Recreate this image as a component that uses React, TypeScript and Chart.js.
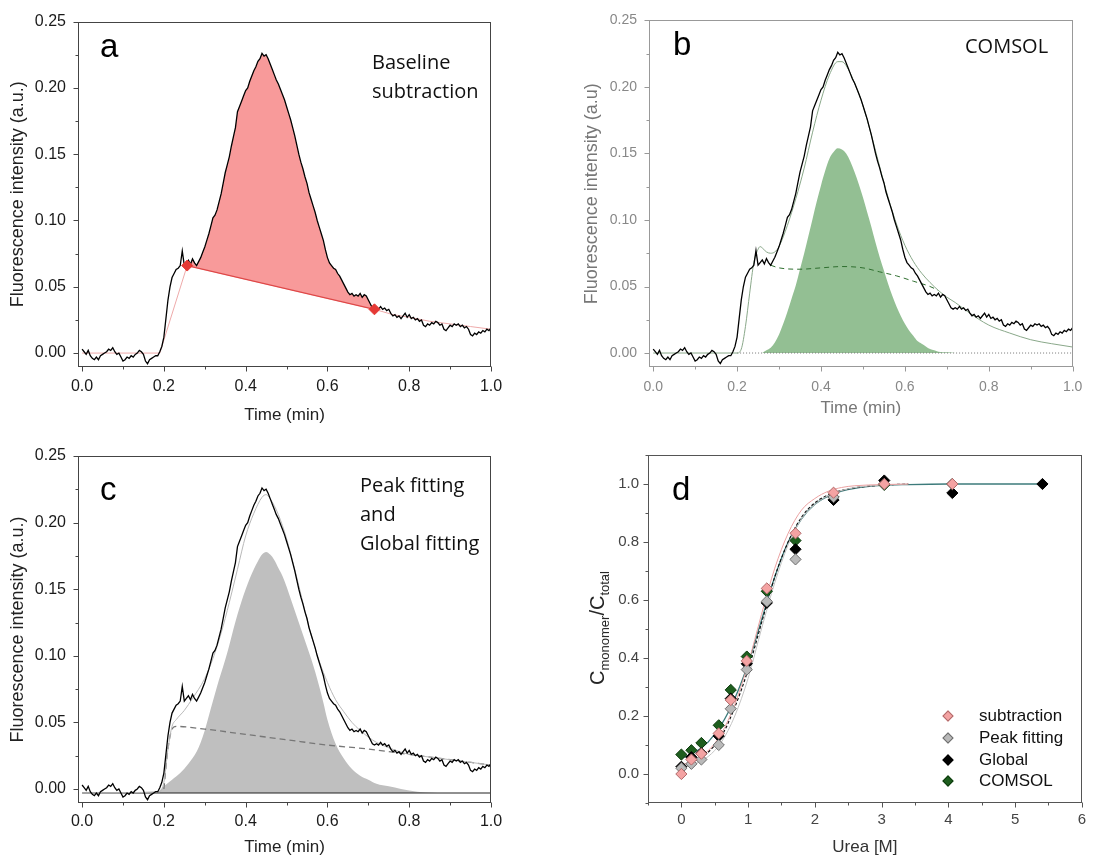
import React, { useEffect, useRef } from 'react';
import { Chart, registerables } from 'chart.js';

Chart.register(...registerables);

// ---------------- DATA ----------------
// measured fluorescence trace, sampled every 0.005 min from 0 to 1.0 min
const TRACE_START = 0;
const TRACE_STEP = 0.005;
const TRACE_Y = [
  0.003, 0.001, -0.001, 0.002, -0.002, -0.004, -0.005, -0.003, -0.005, -0.002, -0.001, 0.0, 0.001, 0.003, 0.002, 0.004, 0.001, -0.001, 0.0, -0.003,
  -0.006, -0.005, -0.003, -0.004, -0.002, -0.003, -0.001, 0.0, 0.002, 0.001, -0.001, -0.006, -0.008, -0.005, -0.004, -0.003, -0.002, -0.002, 0.001, 0.005,
  0.012, 0.026, 0.04, 0.05, 0.057, 0.06, 0.063, 0.064, 0.066, 0.077, 0.066, 0.068, 0.07, 0.067, 0.071, 0.068, 0.066, 0.069, 0.072, 0.076,
  0.08, 0.085, 0.09, 0.096, 0.102, 0.104, 0.108, 0.114, 0.12, 0.128, 0.136, 0.142, 0.148, 0.156, 0.163, 0.17, 0.182, 0.186, 0.19, 0.194,
  0.198, 0.2, 0.205, 0.209, 0.213, 0.216, 0.22, 0.222, 0.226, 0.224, 0.225, 0.222, 0.218, 0.214, 0.21, 0.206, 0.203, 0.199, 0.195, 0.191,
  0.186, 0.181, 0.176, 0.17, 0.164, 0.157, 0.15, 0.144, 0.139, 0.133, 0.128, 0.121, 0.116, 0.111, 0.106, 0.1, 0.095, 0.09, 0.085, 0.078,
  0.072, 0.068, 0.066, 0.064, 0.063, 0.06, 0.058, 0.055, 0.052, 0.049, 0.046, 0.044, 0.045, 0.043, 0.044, 0.043, 0.045, 0.042, 0.044, 0.043,
  0.04, 0.037, 0.034, 0.033, 0.034, 0.033, 0.035, 0.033, 0.034, 0.032, 0.033, 0.03, 0.028, 0.029, 0.027, 0.028, 0.026, 0.028, 0.03, 0.027,
  0.029, 0.026, 0.027, 0.025, 0.026, 0.024, 0.025, 0.021, 0.02, 0.022, 0.021, 0.023, 0.022, 0.024, 0.023, 0.021, 0.022, 0.018, 0.017, 0.019,
  0.021, 0.02, 0.022, 0.021, 0.022, 0.02, 0.021, 0.019, 0.02, 0.018, 0.014, 0.013, 0.015, 0.014, 0.016, 0.015, 0.017, 0.016, 0.018, 0.017, 0.019,
];

// panel a: baseline subtraction
const BASE_FIT_A_X = [0, 0.19, 0.257, 0.715, 0.76, 0.8, 0.85, 0.9, 0.95, 1.0];
const BASE_FIT_A_Y = [0, 0, 0.066, 0.033, 0.029, 0.027, 0.024, 0.022, 0.02, 0.018];
const BASE_POINTS_A_X = [0.257, 0.715];
const BASE_POINTS_A_Y = [0.066, 0.033];

// panel b: COMSOL
const FIT_B_X = [0, 0.2, 0.21, 0.22, 0.23, 0.24, 0.25, 0.255, 0.26, 0.27, 0.28, 0.29, 0.3, 0.32, 0.34, 0.36, 0.38, 0.4, 0.42, 0.44, 0.45, 0.46, 0.48, 0.5, 0.52, 0.54, 0.56, 0.58, 0.6, 0.62, 0.64, 0.66, 0.68, 0.7, 0.72, 0.75, 0.8, 0.85, 0.9, 0.95, 1.0];
const FIT_B_Y = [0, 0, 0.003, 0.02, 0.045, 0.068, 0.078, 0.08, 0.079, 0.076, 0.075, 0.076, 0.08, 0.096, 0.116, 0.139, 0.166, 0.19, 0.209, 0.219, 0.219, 0.216, 0.203, 0.186, 0.164, 0.14, 0.117, 0.097, 0.081, 0.069, 0.06, 0.053, 0.047, 0.042, 0.038, 0.031, 0.021, 0.015, 0.01, 0.007, 0.0045];
const BG_B_X = [0.28, 0.3, 0.35, 0.4, 0.45, 0.5, 0.54, 0.58, 0.62, 0.66, 0.68];
const BG_B_Y = [0.066, 0.064, 0.063, 0.064, 0.065, 0.064, 0.061, 0.058, 0.054, 0.05, 0.047];
const PEAK_B_X = [0.26, 0.27, 0.28, 0.29, 0.3, 0.31, 0.32, 0.33, 0.34, 0.35, 0.36, 0.37, 0.38, 0.39, 0.4, 0.41, 0.42, 0.43, 0.44, 0.45, 0.46, 0.47, 0.48, 0.49, 0.5, 0.51, 0.52, 0.53, 0.54, 0.55, 0.56, 0.57, 0.58, 0.59, 0.6, 0.61, 0.62, 0.63, 0.64, 0.65, 0.66, 0.67, 0.68, 0.7, 0.72];
const PEAK_B_Y = [0, 0.002, 0.004, 0.008, 0.014, 0.022, 0.031, 0.041, 0.051, 0.063, 0.075, 0.088, 0.101, 0.114, 0.126, 0.137, 0.146, 0.151, 0.154, 0.153, 0.15, 0.144, 0.136, 0.127, 0.117, 0.106, 0.095, 0.083, 0.072, 0.062, 0.052, 0.043, 0.035, 0.028, 0.022, 0.017, 0.013, 0.009, 0.007, 0.005, 0.003, 0.002, 0.001, 0.0005, 0];
const ZERO_B_X = [0.2, 1.0];
const ZERO_B_Y = [0, 0];

// panel c: peak fitting and global fitting
const FIT_C_X = [0, 0.19, 0.2, 0.21, 0.22, 0.23, 0.25, 0.27, 0.3, 0.32, 0.34, 0.36, 0.38, 0.4, 0.42, 0.44, 0.45, 0.46, 0.48, 0.5, 0.52, 0.54, 0.56, 0.58, 0.6, 0.62, 0.64, 0.66, 0.68, 0.7, 0.72, 0.75, 0.8, 0.85, 0.9, 0.95, 1.0];
const FIT_C_Y = [-0.003, -0.002, 0.005, 0.03, 0.047, 0.052, 0.059, 0.068, 0.083, 0.098, 0.117, 0.14, 0.165, 0.19, 0.207, 0.219, 0.221, 0.218, 0.206, 0.188, 0.165, 0.14, 0.116, 0.096, 0.08, 0.067, 0.058, 0.05, 0.044, 0.039, 0.035, 0.031, 0.026, 0.024, 0.022, 0.02, 0.018];
const BG_C_X = [0.2, 0.21, 0.22, 0.23, 0.3, 0.4, 0.5, 0.6, 0.7, 0.8, 0.9, 1.0];
const BG_C_Y = [0.0, 0.03, 0.045, 0.047, 0.045, 0.041, 0.037, 0.033, 0.03, 0.026, 0.022, 0.018];
const PEAK_C_X = [0.18, 0.19, 0.2, 0.22, 0.24, 0.26, 0.28, 0.29, 0.3, 0.31, 0.32, 0.33, 0.34, 0.35, 0.36, 0.37, 0.38, 0.39, 0.4, 0.41, 0.42, 0.43, 0.44, 0.45, 0.46, 0.47, 0.48, 0.49, 0.5, 0.51, 0.52, 0.53, 0.54, 0.55, 0.56, 0.57, 0.58, 0.59, 0.6, 0.62, 0.64, 0.66, 0.68, 0.7, 0.72, 0.75, 0.78, 0.82, 0.87];
const PEAK_C_Y = [-0.003, -0.001, 0.002, 0.007, 0.012, 0.019, 0.028, 0.035, 0.044, 0.055, 0.066, 0.077, 0.087, 0.097, 0.108, 0.12, 0.131, 0.141, 0.15, 0.158, 0.165, 0.171, 0.176, 0.178, 0.176, 0.172, 0.166, 0.16, 0.152, 0.143, 0.134, 0.125, 0.116, 0.107, 0.098, 0.088, 0.077, 0.065, 0.052, 0.034, 0.023, 0.015, 0.01, 0.007, 0.004, 0.002, 0.0, -0.002, -0.003];
const BASELINE_C_X = [0, 1.0];
const BASELINE_C_Y = [-0.003, -0.003];
const BASELINE_C = -0.003;

// panel d: denaturation curves
const SERIES_NAMES = ['subtraction', 'Peak fitting', 'Global', 'COMSOL'];
const UREA_SUB_X = [0, 0.15, 0.3, 0.56, 0.74, 0.98, 1.28, 1.71, 2.28, 3.04, 4.06];
const UREA_SUB_Y = [0.0, 0.05, 0.07, 0.14, 0.255, 0.39, 0.64, 0.83, 0.97, 1.0, 1.0];
const UREA_PEAK_X = [0, 0.15, 0.3, 0.56, 0.74, 0.98, 1.28, 1.71, 2.28, 3.04, 4.06];
const UREA_PEAK_Y = [0.02, 0.035, 0.05, 0.1, 0.225, 0.36, 0.595, 0.74, 0.955, 1.0, 1.0];
const UREA_GLOBAL_X = [0, 0.15, 0.3, 0.56, 0.74, 0.98, 1.28, 1.71, 2.28, 3.04, 4.06, 5.41];
const UREA_GLOBAL_Y = [0.025, 0.058, 0.072, 0.131, 0.26, 0.38, 0.59, 0.775, 0.945, 1.012, 0.969, 1.0];
const UREA_COMSOL_X = [0, 0.15, 0.3, 0.56, 0.74, 0.98, 1.28, 1.71, 2.28, 3.04, 4.06];
const UREA_COMSOL_Y = [0.067, 0.082, 0.107, 0.168, 0.29, 0.405, 0.63, 0.805, 0.955, 0.997, 1.0];

const FIT_D_X = [0, 0.2, 0.4, 0.6, 0.8, 1.0, 1.2, 1.4, 1.6, 1.8, 2.0, 2.2, 2.4, 2.6, 3.0, 3.4];
const FIT_D_SUB_Y = [0.03, 0.05, 0.08, 0.14, 0.24, 0.38, 0.55, 0.71, 0.83, 0.91, 0.95, 0.975, 0.988, 0.994, 0.998, 1.0];
const FIT_D_PEAK_Y = [0.02, 0.035, 0.06, 0.11, 0.2, 0.33, 0.5, 0.66, 0.79, 0.88, 0.93, 0.96, 0.978, 0.988, 0.996, 1.0];
const FIT_D_GLOBAL_Y = [0.03, 0.045, 0.075, 0.13, 0.23, 0.36, 0.52, 0.68, 0.8, 0.885, 0.935, 0.962, 0.978, 0.987, 0.996, 1.0];
const FIT_D_COMSOL_X = [0, 0.2, 0.4, 0.6, 0.8, 1.0, 1.2, 1.4, 1.6, 1.8, 2.0, 2.2, 2.4, 2.6, 3.0, 3.4, 4.0, 5.41];
const FIT_D_COMSOL_Y = [0.055, 0.075, 0.11, 0.17, 0.26, 0.38, 0.53, 0.68, 0.8, 0.88, 0.93, 0.958, 0.975, 0.985, 0.995, 0.998, 1.0, 1.0];

// tick values / labels
const TIME_TICKS = [0, 0.1, 0.2, 0.3, 0.4, 0.5, 0.6, 0.7, 0.8, 0.9, 1.0];
const TIME_LABELS = ['0.0', '', '0.2', '', '0.4', '', '0.6', '', '0.8', '', '1.0'];
const FLUOR_TICKS = [0, 0.025, 0.05, 0.075, 0.1, 0.125, 0.15, 0.175, 0.2, 0.225, 0.25];
const FLUOR_LABELS = ['0.00', '', '0.05', '', '0.10', '', '0.15', '', '0.20', '', '0.25'];
const UREA_TICKS = [-0.5, 0, 0.5, 1, 1.5, 2, 2.5, 3, 3.5, 4, 4.5, 5, 5.5, 6];
const UREA_LABELS = ['', '0', '', '1', '', '2', '', '3', '', '4', '', '5', '', '6'];
const RATIO_TICKS = [-0.1, 0, 0.1, 0.2, 0.3, 0.4, 0.5, 0.6, 0.7, 0.8, 0.9, 1.0, 1.1];
const RATIO_LABELS = ['', '0.0', '', '0.2', '', '0.4', '', '0.6', '', '0.8', '', '1.0', ''];

// ---------------- HELPERS ----------------
const FONT = "'Liberation Sans', Arial, Helvetica, sans-serif";
const ANNOT = "'Open Sans', 'Noto Sans', sans-serif";

type Pt = { x: number; y: number };
const zip = (xs: number[], ys: number[]): Pt[] => xs.map((x, i) => ({ x, y: ys[i] }));
const tracePts = (): Pt[] =>
  TRACE_Y.map((y, i) => ({ x: Math.round((TRACE_START + i * TRACE_STEP) * 1000) / 1000, y }));

const frameTicks = {
  id: 'frameTicks',
  afterDatasetsDraw(chart: any, _args: any, opts: any) {
    const { ctx, chartArea } = chart;
    const L = Math.round(chartArea.left) + 0.5;
    const R = Math.round(chartArea.right) - 0.5;
    const T = Math.round(chartArea.top) + 0.5;
    const B = Math.round(chartArea.bottom) - 0.5;
    ctx.save();
    ctx.strokeStyle = opts.color || '#333';
    ctx.lineWidth = 1;
    ctx.strokeRect(L, T, R - L, B - T);
    ctx.beginPath();
    const xs = chart.scales.x;
    const ys = chart.scales.y;
    xs.ticks.forEach((t: any) => {
      const px = Math.round(xs.getPixelForValue(t.value)) + 0.5;
      const len = t.label ? 5 : 3;
      ctx.moveTo(px, B);
      ctx.lineTo(px, B + len);
    });
    ys.ticks.forEach((t: any) => {
      const py = Math.round(ys.getPixelForValue(t.value)) + 0.5;
      const len = t.label ? 5 : 3;
      ctx.moveTo(L, py);
      ctx.lineTo(L - len, py);
    });
    ctx.stroke();
    ctx.restore();
  },
};

interface AxisOpts {
  xMin: number; xMax: number; xTicks: number[]; xLabels: string[];
  yMin: number; yMax: number; yTicks: number[]; yLabels: string[];
  xTitle: string; yTitle: string | null;
  tickSize: number; tickColor: string; titleColor: string;
  yWidth: number; xHeight: number;
  yTickPad: number; xTickPad: number; yTitlePad: number; xTitlePad: number;
}

function makeScales(o: AxisOpts) {
  return {
    x: {
      type: 'linear',
      min: o.xMin,
      max: o.xMax,
      grid: { display: false, drawTicks: false },
      border: { display: false },
      afterBuildTicks: (s: any) => { s.ticks = o.xTicks.map((v) => ({ value: v })); },
      afterFit: (s: any) => { s.height = o.xHeight; },
      ticks: {
        autoSkip: false, maxRotation: 0, minRotation: 0,
        padding: o.xTickPad,
        color: o.tickColor,
        font: { family: FONT, size: o.tickSize },
        callback: (_v: any, i: number) => o.xLabels[i],
      },
      title: {
        display: true, text: o.xTitle, color: o.titleColor,
        font: { family: FONT, size: 17 },
        padding: { top: 0, bottom: o.xTitlePad },
      },
    },
    y: {
      type: 'linear',
      min: o.yMin,
      max: o.yMax,
      grid: { display: false, drawTicks: false },
      border: { display: false },
      afterBuildTicks: (s: any) => { s.ticks = o.yTicks.map((v) => ({ value: v })); },
      afterFit: (s: any) => { s.width = o.yWidth; },
      ticks: {
        autoSkip: false,
        padding: o.yTickPad,
        color: o.tickColor,
        font: { family: FONT, size: o.tickSize },
        callback: (_v: any, i: number) => o.yLabels[i],
      },
      title: {
        display: !!o.yTitle, text: o.yTitle || '', color: o.titleColor,
        font: { family: FONT, size: 18 },
        padding: { top: o.yTitlePad, bottom: 0 },
      },
    },
  };
}

function baseOptions(padding: any, scales: any, frameColor: string) {
  return {
    responsive: false,
    animation: false,
    devicePixelRatio: 1,
    layout: { padding },
    plugins: {
      legend: { display: false },
      tooltip: { enabled: false },
      frameTicks: { color: frameColor },
    },
    elements: { point: { radius: 0 }, line: { tension: 0 } },
    scales,
  };
}

const line = (data: Pt[], color: string, width: number, extra: any = {}) => ({
  data, borderColor: color, borderWidth: width, pointRadius: 0, fill: false, ...extra,
});

// ---------------- CONFIGS ----------------
function configA() {
  const trace = tracePts();
  const peak = trace.filter((p) => p.x >= 0.257 && p.x <= 0.715);
  return {
    type: 'line',
    data: {
      datasets: [
        {
          data: zip(BASE_POINTS_A_X, BASE_POINTS_A_Y), showLine: false,
          pointStyle: 'rectRot', pointRadius: 5.5, backgroundColor: '#e53935', borderColor: '#e53935', borderWidth: 1,
        },
        line(trace, '#000', 1.3),
        line(zip(BASE_POINTS_A_X, BASE_POINTS_A_Y), '#e04848', 1.2),
        line(zip(BASE_FIT_A_X, BASE_FIT_A_Y), '#eeaaaa', 1),
        line(peak, 'rgba(0,0,0,0)', 0, { fill: 2, backgroundColor: '#f89a9a' }),
      ],
    },
    options: baseOptions(
      { left: 0, top: 19, right: 56, bottom: 0 },
      makeScales({
        xMin: -0.01, xMax: 1.0, xTicks: TIME_TICKS, xLabels: TIME_LABELS,
        yMin: -0.0105, yMax: 0.25, yTicks: FLUOR_TICKS, yLabels: FLUOR_LABELS,
        xTitle: 'Time (min)', yTitle: 'Fluorescence intensity (a.u.)',
        tickSize: 16, tickColor: '#1a1a1a', titleColor: '#222',
        yWidth: 78, xHeight: 65, yTickPad: 12, xTickPad: 10, yTitlePad: 7.5, xTitlePad: 6.8,
      }),
      '#444'
    ),
    plugins: [frameTicks],
  };
}

function configB() {
  return {
    type: 'line',
    data: {
      datasets: [
        line(tracePts(), '#000', 1.3),
        line(zip(FIT_B_X, FIT_B_Y), '#8aa88a', 1, { cubicInterpolationMode: 'monotone' }),
        line(zip(BG_B_X, BG_B_Y), '#2f6f2f', 1, { borderDash: [5, 4], cubicInterpolationMode: 'monotone' }),
        line(zip(ZERO_B_X, ZERO_B_Y), '#777', 1, { borderDash: [1, 2] }),
        line(zip(PEAK_B_X, PEAK_B_Y), 'rgba(0,0,0,0)', 0, {
          fill: { value: 0 }, backgroundColor: '#93bf93', cubicInterpolationMode: 'monotone',
        }),
      ],
    },
    options: baseOptions(
      { left: 0, top: 19, right: 12, bottom: 0 },
      makeScales({
        xMin: -0.01, xMax: 1.0, xTicks: TIME_TICKS, xLabels: TIME_LABELS,
        yMin: -0.0105, yMax: 0.25, yTicks: FLUOR_TICKS, yLabels: FLUOR_LABELS,
        xTitle: 'Time (min)', yTitle: 'Fluorescence intensity (a.u)',
        tickSize: 14, tickColor: '#888', titleColor: '#777',
        yWidth: 102, xHeight: 65, yTickPad: 12, xTickPad: 11.6, yTitlePad: 34, xTitlePad: 13.8,
      }),
      '#999'
    ),
    plugins: [frameTicks],
  };
}

function configC() {
  return {
    type: 'line',
    data: {
      datasets: [
        line(tracePts(), '#000', 1.3),
        line(zip(FIT_C_X, FIT_C_Y), '#b8b8b8', 1, { cubicInterpolationMode: 'monotone' }),
        line(zip(BG_C_X, BG_C_Y), '#777', 1.3, { borderDash: [6, 4], cubicInterpolationMode: 'monotone' }),
        line(zip(BASELINE_C_X, BASELINE_C_Y), '#222', 1.2),
        line(zip(PEAK_C_X, PEAK_C_Y), 'rgba(0,0,0,0)', 0, {
          fill: { value: BASELINE_C }, backgroundColor: '#bfbfbf', cubicInterpolationMode: 'monotone',
        }),
      ],
    },
    options: baseOptions(
      { left: 0, top: 24, right: 56, bottom: 0 },
      makeScales({
        xMin: -0.01, xMax: 1.0, xTicks: TIME_TICKS, xLabels: TIME_LABELS,
        yMin: -0.0105, yMax: 0.25, yTicks: FLUOR_TICKS, yLabels: FLUOR_LABELS,
        xTitle: 'Time (min)', yTitle: 'Fluorescence intensity (a.u.)',
        tickSize: 16, tickColor: '#1a1a1a', titleColor: '#222',
        yWidth: 78, xHeight: 61, yTickPad: 12, xTickPad: 9.4, yTitlePad: 7.5, xTitlePad: 6.8,
      }),
      '#444'
    ),
    plugins: [frameTicks],
  };
}

const D_STYLES = [
  { fill: '#f4a3a3', edge: '#b06a6a' },
  { fill: '#b9b9b9', edge: '#6d6d6d' },
  { fill: '#000000', edge: '#000000' },
  { fill: '#1e5e1e', edge: '#0c3a0c' },
];

function configD() {
  const pts = [
    zip(UREA_SUB_X, UREA_SUB_Y),
    zip(UREA_PEAK_X, UREA_PEAK_Y),
    zip(UREA_GLOBAL_X, UREA_GLOBAL_Y),
    zip(UREA_COMSOL_X, UREA_COMSOL_Y),
  ];
  const scatter = pts.map((d, i) => ({
    label: SERIES_NAMES[i], data: d, showLine: false, pointStyle: 'rectRot', pointRadius: 5.6,
    backgroundColor: D_STYLES[i].fill, borderColor: D_STYLES[i].edge, borderWidth: 1,
  }));
  return {
    type: 'line',
    data: {
      datasets: [
        ...scatter,
        line(zip(FIT_D_X, FIT_D_SUB_Y), '#eba2a2', 1, { cubicInterpolationMode: 'monotone' }),
        line(zip(FIT_D_X, FIT_D_PEAK_Y), '#c4c4c4', 1, { cubicInterpolationMode: 'monotone' }),
        line(zip(FIT_D_X, FIT_D_GLOBAL_Y), '#111', 1.2, { borderDash: [3, 2], cubicInterpolationMode: 'monotone' }),
        line(zip(FIT_D_COMSOL_X, FIT_D_COMSOL_Y), '#3d7b7b', 1.3, { cubicInterpolationMode: 'monotone' }),
      ],
    },
    options: baseOptions(
      { left: 0, top: 23, right: 12, bottom: 0 },
      makeScales({
        xMin: -0.5, xMax: 6, xTicks: UREA_TICKS, xLabels: UREA_LABELS,
        yMin: -0.1, yMax: 1.1, yTicks: RATIO_TICKS, yLabels: RATIO_LABELS,
        xTitle: 'Urea [M]', yTitle: null,
        tickSize: 15, tickColor: '#444', titleColor: '#333',
        yWidth: 101, xHeight: 61, yTickPad: 9, xTickPad: 8, yTitlePad: 0, xTitlePad: 6.8,
      }),
      '#555'
    ),
    plugins: [frameTicks],
  };
}

// ---------------- COMPONENTS ----------------
function Panel({ left, top, make }: { left: number; top: number; make: () => any }) {
  const ref = useRef<HTMLCanvasElement>(null);
  useEffect(() => {
    const chart = new Chart(ref.current as HTMLCanvasElement, make());
    return () => chart.destroy();
  }, []);
  return (
    <canvas
      ref={ref}
      width={547}
      height={432}
      style={{ position: 'absolute', left, top, width: 547, height: 432, display: 'block' }}
    />
  );
}

const letterStyle = (left: number, top: number): React.CSSProperties => ({
  position: 'absolute', left, top, fontFamily: FONT, fontSize: 33, lineHeight: '33px', color: '#000',
});

const annotStyle = (left: number, top: number, color = '#111'): React.CSSProperties => ({
  position: 'absolute', left, top, fontFamily: ANNOT, fontSize: 20, lineHeight: '29px', color, whiteSpace: 'nowrap',
});

const LEGEND_ROWS_Y = [716, 738, 760, 781];

export default function App() {
  return (
    <div style={{ position: 'absolute', left: 0, top: 0, width: 1094, height: 864, background: '#fff', overflow: 'hidden' }}>
      <Panel left={0} top={0} make={configA} />
      <Panel left={547} top={0} make={configB} />
      <Panel left={0} top={432} make={configC} />
      <Panel left={547} top={432} make={configD} />

      <div style={letterStyle(100, 29)}>a</div>
      <div style={letterStyle(673, 27)}>b</div>
      <div style={letterStyle(100, 472)}>c</div>
      <div style={letterStyle(672, 472)}>d</div>

      <div style={annotStyle(372, 47)}>Baseline<br />subtraction</div>
      <div style={annotStyle(965, 31)}>COMSOL</div>
      <div style={annotStyle(360, 470)}>Peak fitting<br />and<br />Global fitting</div>

      <div
        style={{
          position: 'absolute', left: 601, top: 628, transform: 'translate(-50%, -50%) rotate(-90deg)',
          fontFamily: FONT, fontSize: 20, color: '#222', whiteSpace: 'nowrap', lineHeight: '24px',
        }}
      >
        C<sub style={{ fontSize: 13 }}>monomer</sub>/C<sub style={{ fontSize: 13 }}>total</sub>
      </div>

      {SERIES_NAMES.map((name, i) => (
        <div
          key={name}
          style={{
            position: 'absolute', left: 940, top: LEGEND_ROWS_Y[i] - 11, height: 22, display: 'flex', alignItems: 'center',
            fontFamily: FONT, fontSize: 17, color: '#111', whiteSpace: 'nowrap',
          }}
        >
          <span
            style={{
              display: 'inline-block', width: 6, height: 6, marginLeft: 4, marginRight: 27,
              background: D_STYLES[i].fill, border: `1px solid ${D_STYLES[i].edge}`, transform: 'rotate(45deg)',
            }}
          />
          {name}
        </div>
      ))}
    </div>
  );
}
